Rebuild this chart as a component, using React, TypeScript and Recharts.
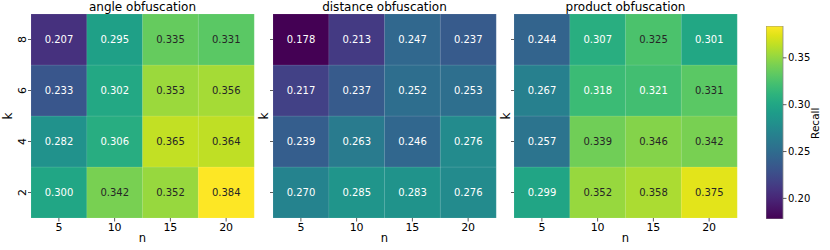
import React from 'react';
import { BarChart, Bar, XAxis, YAxis, Cell, LabelList } from 'recharts';

// ---- data ----
const nValues = [5, 10, 15, 20];
const kValues = [2, 4, 6, 8];

// rows indexed by n (5, 10, 15, 20)
const angleK2 = [0.300, 0.342, 0.352, 0.384];
const angleK4 = [0.282, 0.306, 0.365, 0.364];
const angleK6 = [0.233, 0.302, 0.353, 0.356];
const angleK8 = [0.207, 0.295, 0.335, 0.331];

const distanceK2 = [0.270, 0.285, 0.283, 0.276];
const distanceK4 = [0.239, 0.263, 0.246, 0.276];
const distanceK6 = [0.217, 0.237, 0.252, 0.253];
const distanceK8 = [0.178, 0.213, 0.247, 0.237];

const productK2 = [0.299, 0.352, 0.358, 0.375];
const productK4 = [0.257, 0.339, 0.346, 0.342];
const productK6 = [0.267, 0.318, 0.321, 0.331];
const productK8 = [0.244, 0.307, 0.325, 0.301];

const panelTitles = ['angle obfuscation', 'distance obfuscation', 'product obfuscation'];
const colorbarTicks = [0.20, 0.25, 0.30, 0.35];
const colorbarLabel = 'Recall';

// ---- viridis ----
const VIRIDIS = [
  '#440154', '#471365', '#482475', '#463480', '#414487', '#3b528b', '#355f8d',
  '#2f6c8e', '#2a788e', '#25848e', '#21918c', '#1e9c89', '#22a884', '#2fb47c',
  '#44bf70', '#5ec962', '#7ad151', '#9bd93c', '#bddf26', '#dfe318', '#fde725',
];
const hexToRgb = (h: string) => [parseInt(h.slice(1, 3), 16), parseInt(h.slice(3, 5), 16), parseInt(h.slice(5, 7), 16)];
const viridisRgb = (t: number) => {
  const c = Math.max(0, Math.min(1, t)) * (VIRIDIS.length - 1);
  const i = Math.min(Math.floor(c), VIRIDIS.length - 2);
  const f = c - i;
  const a = hexToRgb(VIRIDIS[i]);
  const b = hexToRgb(VIRIDIS[i + 1]);
  return a.map((v, j) => Math.round(v + (b[j] - v) * f));
};
const rgbStr = (c: number[]) => `rgb(${c[0]},${c[1]},${c[2]})`;
const luminance = (c: number[]) => {
  const lin = c.map((v) => {
    const s = v / 255;
    return s <= 0.03928 ? s / 12.92 : Math.pow((s + 0.055) / 1.055, 2.4);
  });
  return 0.2126 * lin[0] + 0.7152 * lin[1] + 0.0722 * lin[2];
};

const allValues = [
  ...angleK2, ...angleK4, ...angleK6, ...angleK8,
  ...distanceK2, ...distanceK4, ...distanceK6, ...distanceK8,
  ...productK2, ...productK4, ...productK6, ...productK8,
];
const vmin = Math.min(...allValues);
const vmax = Math.max(...allValues);
const norm = (v: number) => (v - vmin) / (vmax - vmin);

const kKeys = ['k2', 'k4', 'k6', 'k8'];
const buildRows = (k2: number[], k4: number[], k6: number[], k8: number[]) =>
  nValues.map((n, i) => ({ n: String(n), k2: k2[i], k4: k4[i], k6: k6[i], k8: k8[i] }));

const panels = [
  buildRows(angleK2, angleK4, angleK6, angleK8),
  buildRows(distanceK2, distanceK4, distanceK6, distanceK8),
  buildRows(productK2, productK4, productK6, productK8),
];

const FONT = '"DejaVu Sans", Verdana, sans-serif';
const TXT = '#000000';

// layout of each panel chart
const panelLayout = [
  { left: 0, width: 260, yAxisWidth: 31 },
  { left: 250, width: 250, yAxisWidth: 23 },
  { left: 491, width: 250, yAxisWidth: 23 },
];
const PLOT_W = 223;
const PLOT_TOP = 14;
const X_AXIS_H = 32;
const H = 250;

const YTick = (showLabel: boolean) => (props: any) => {
  const { x, y, payload } = props;
  if (!showLabel) return <g />;
  const idx = Math.round(payload.value - 0.5);
  return (
    <text
      x={x}
      y={y}
      transform={`rotate(-90 ${x} ${y})`}
      textAnchor="middle"
      fontSize={11}
      fontFamily={FONT}
      fill={TXT}
    >
      {kValues[idx]}
    </text>
  );
};

const makeLabel = (rows: any[], key: string) => (props: any) => {
  const { x, y, width, height, index } = props;
  const v = rows[index][key];
  const lum = luminance(viridisRgb(norm(v)));
  return (
    <text
      x={Number(x) + Number(width) / 2}
      y={Number(y) + Number(height) / 2}
      dy="0.35em"
      textAnchor="middle"
      fontSize={10}
      fontFamily={FONT}
      fill={lum > 0.4 ? '#262626' : '#ffffff'}
    >
      {v.toFixed(3)}
    </text>
  );
};

const Heatmap = ({ rows, idx }: { rows: any[]; idx: number }) => {
  const lay = panelLayout[idx];
  const rightMargin = lay.width - lay.yAxisWidth - PLOT_W;
  return (
    <div style={{ position: 'absolute', left: lay.left, top: 0, width: lay.width, height: H }}>
      <BarChart
        width={lay.width}
        height={H}
        data={rows}
        margin={{ top: PLOT_TOP, right: rightMargin, bottom: 0, left: 0 }}
        barCategoryGap={0}
        barGap={0}
      >
        <XAxis
          dataKey="n"
          height={X_AXIS_H}
          axisLine={false}
          tickLine={{ stroke: '#333', strokeWidth: 0.8 }}
          tickSize={3.5}
          tickMargin={1.5}
          tick={{ fontSize: 11, fontFamily: FONT, fill: TXT }}
        />
        <YAxis
          type="number"
          domain={[0, 4]}
          ticks={[0.5, 1.5, 2.5, 3.5]}
          width={lay.yAxisWidth}
          axisLine={false}
          tickLine={{ stroke: '#333', strokeWidth: 0.8 }}
          tickSize={3}
          tickMargin={2}
          tick={YTick(idx === 0)}
          allowDataOverflow
        />
        {kKeys.map((key) => (
          <Bar
            key={key}
            dataKey={() => 1}
            stackId="s"
            isAnimationActive={false}
          >
            {rows.map((r, i) => {
              const c = viridisRgb(norm(r[key]));
              return <Cell key={i} fill={rgbStr(c)} stroke="rgba(255,255,255,0.12)" strokeWidth={0.8} />;
            })}
            <LabelList content={makeLabel(rows, key)} />
          </Bar>
        ))}
      </BarChart>
    </div>
  );
};

const colorbarData = [{ name: 'cb', range: [vmin, vmax] }];
const CB_LEFT = 766;
const CB_W = 17;
const CB_TOP = 26;
const CB_BOTTOM = 219;

const Colorbar = () => (
  <div style={{ position: 'absolute', left: CB_LEFT, top: 0, width: 64, height: H }}>
    <BarChart
      width={64}
      height={H}
      data={colorbarData}
      margin={{ top: CB_TOP, right: 0, bottom: H - CB_BOTTOM, left: 0 }}
      barCategoryGap={0}
    >
      <defs>
        <linearGradient id="viridisGrad" x1="0" y1="1" x2="0" y2="0">
          {VIRIDIS.map((c, i) => (
            <stop key={i} offset={`${(i / (VIRIDIS.length - 1)) * 100}%`} stopColor={c} />
          ))}
        </linearGradient>
      </defs>
      <XAxis dataKey="name" hide />
      <YAxis
        orientation="right"
        type="number"
        domain={[vmin, vmax]}
        ticks={colorbarTicks}
        width={64 - CB_W}
        axisLine={false}
        tickLine={{ stroke: '#333', strokeWidth: 0.8 }}
        tickSize={3.5}
        tickMargin={1.5}
        tickFormatter={(v: number) => v.toFixed(2)}
        tick={{ fontSize: 10, fontFamily: FONT, fill: TXT, textAnchor: 'start' }}
        allowDataOverflow
      />
      <Bar dataKey="range" fill="url(#viridisGrad)" stroke="#8c8c8c" strokeWidth={0.8} isAnimationActive={false} />
    </BarChart>
  </div>
);

const textStyle: React.CSSProperties = {
  position: 'absolute',
  fontFamily: FONT,
  color: TXT,
  whiteSpace: 'nowrap',
  lineHeight: 1,
};

const panelPlotLeft = panelLayout.map((l) => l.left + l.yAxisWidth);

export default function App() {
  return (
    <div style={{ position: 'absolute', left: 0, top: 0, width: 830, height: H, background: '#fff', overflow: 'hidden' }}>
      {panels.map((rows, i) => (
        <Heatmap key={i} rows={rows} idx={i} />
      ))}
      <Colorbar />
      {panelTitles.map((t, i) => (
        <div
          key={t}
          style={{ ...textStyle, left: panelPlotLeft[i], width: PLOT_W, top: 1, fontSize: 12, textAlign: 'center' }}
        >
          {t}
        </div>
      ))}
      {panelTitles.map((t, i) => (
        <div
          key={'n' + t}
          style={{ ...textStyle, left: panelPlotLeft[i], width: PLOT_W, top: 233, fontSize: 11.5, textAlign: 'center' }}
        >
          n
        </div>
      ))}
      {[8, 264, 506].map((cx, i) => (
        <div
          key={'k' + i}
          style={{
            ...textStyle,
            left: cx - 20,
            top: 116 - 6,
            width: 40,
            fontSize: 12,
            textAlign: 'center',
            transform: 'rotate(-90deg)',
          }}
        >
          k
        </div>
      ))}
      <div
        style={{
          ...textStyle,
          left: 815 - 30,
          top: 123 - 5,
          width: 60,
          fontSize: 10.5,
          textAlign: 'center',
          transform: 'rotate(-90deg)',
        }}
      >
        {colorbarLabel}
      </div>
    </div>
  );
}
